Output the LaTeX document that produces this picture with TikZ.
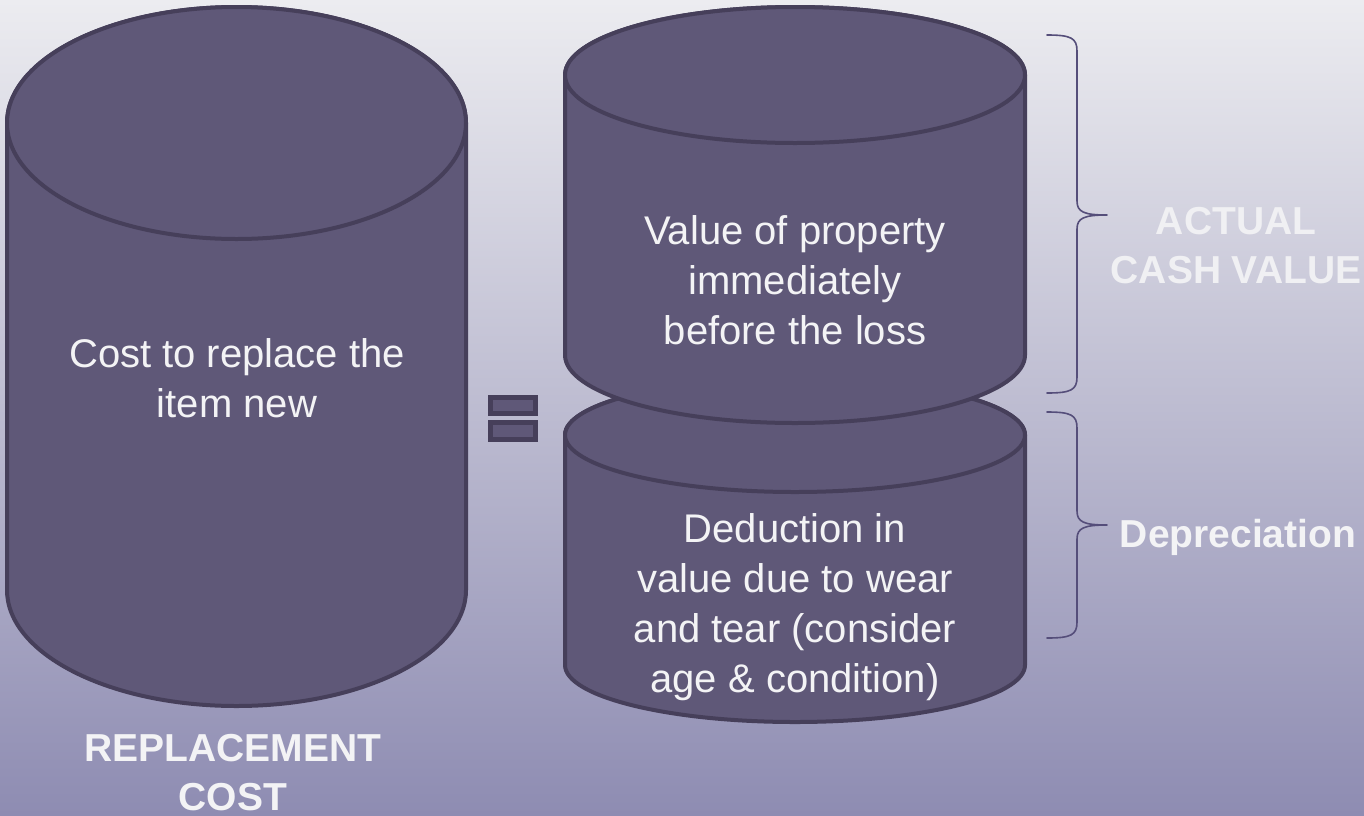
\documentclass[tikz,border=0pt]{standalone}
\usepackage{fontspec}
\setmainfont{Liberation Sans}
\definecolor{bgtop}{RGB}{236,236,240}
\definecolor{bgbot}{RGB}{142,140,178}
\definecolor{cylfill}{RGB}{95,88,120}
\definecolor{cylline}{RGB}{70,63,90}
\definecolor{bracecol}{RGB}{85,78,122}
\definecolor{txtcol}{RGB}{243,243,245}
\definecolor{lbltop}{RGB}{240,240,243}
\tikzset{
  cyl/.style={fill=cylfill, draw=cylline, line width=4pt, line join=round},
  eqbar/.style={fill=cylfill, draw=cylline, line width=5pt},
  intext/.style={text=txtcol, align=center, anchor=base, inner sep=0pt,
    font={\fontsize{40}{50}\selectfont}},
  lbl/.style={text=txtcol, align=center, anchor=base, inner sep=0pt,
    font={\fontsize{39}{49}\selectfont\bfseries}},
  bracestyle/.style={draw=bracecol, line width=1.6pt, line cap=round, line join=round}
}
\newcommand{\mycyl}[5]{%
  \filldraw[cyl] (#1-#4,#2) -- (#1-#4,#3)
    arc[start angle=180,end angle=360,x radius=#4pt,y radius=#5pt]
    -- (#1+#4,#2)
    arc[start angle=0,end angle=180,x radius=#4pt,y radius=#5pt] -- cycle;
  \draw[cyl] (#1,#2) ellipse[x radius=#4pt,y radius=#5pt];
}
\newcommand{\mybrace}[3]{%
  \draw[bracestyle] (1047,#1) .. controls (1071,#1) and (1077,#1+3) .. (1077,#1+16)
    -- (1077,#2-14) .. controls (1077,#2-3) and (1084,#2) .. (1107,#2)
    .. controls (1084,#2) and (1077,#2+3) .. (1077,#2+14)
    -- (1077,#3-16) .. controls (1077,#3-3) and (1071,#3) .. (1047,#3);
}
\begin{document}
\begin{tikzpicture}[x=1pt,y=-1pt]
\useasboundingbox (0,0) rectangle (1364,815);
\shade[top color=bgtop, bottom color=bgbot] (0,0) rectangle (1364,815);
% left cylinder
\mycyl{236.5}{123}{590}{229.5}{116}
% bottom right cylinder
\mycyl{795}{435}{665}{230}{57}
% top right cylinder
\mycyl{795}{75}{355}{230}{68}
% equals sign
\filldraw[eqbar] (490.5,397.5) rectangle (535.5,413.5);
\filldraw[eqbar] (490.5,422.5) rectangle (535.5,439.5);
% braces
\mybrace{35}{215}{393}
\mybrace{412}{525}{638}
% texts (anchor base = baseline of the last line)
\node[intext] (rctext) at (237,417) {Cost to replace the\\item new};
\node[intext] (acvtext) at (795,344) {Value of property\\immediately\\before the loss};
\node[intext] (deptext) at (795,692) {Deduction in\\value due to wear\\and tear (consider\\age \& condition)};
\node[lbl] (rclabel) at (233,810) {REPLACEMENT\\COST};
\node[lbl, text=lbltop] (acvlabel) at (1236,283) {ACTUAL\\CASH VALUE};
\node[lbl] (deplabel) at (1238,547) {Depreciation};
\end{tikzpicture}
\end{document}
